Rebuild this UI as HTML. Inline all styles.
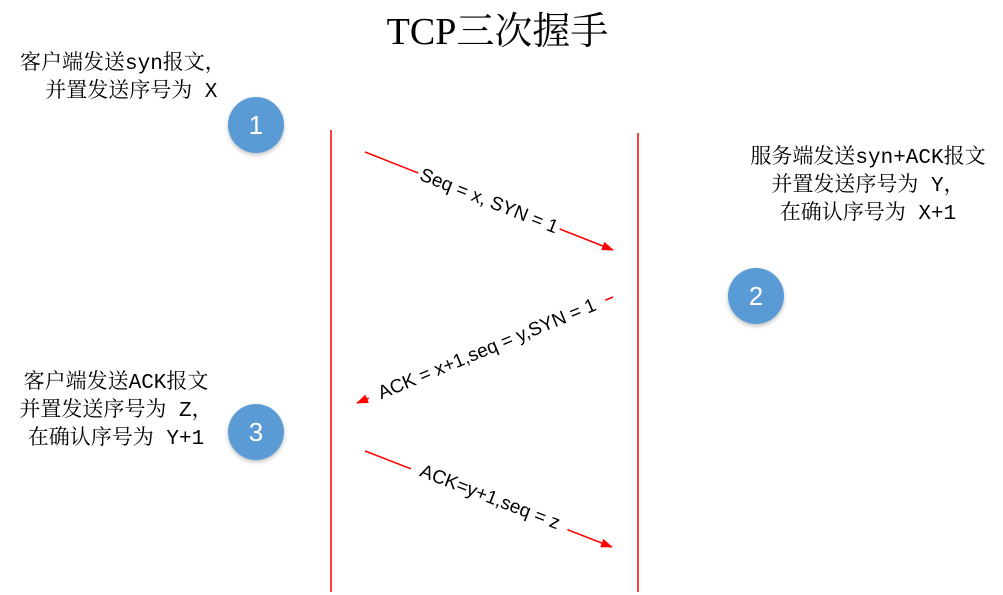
<!DOCTYPE html>
<html><head><meta charset="utf-8"><style>
body{margin:0;width:1003px;height:595px;background:#fff;overflow:hidden;position:relative}
.t{position:absolute;font-family:"Liberation Mono","Noto Serif CJK SC",serif;font-size:21px;color:#000;line-height:28px;white-space:pre;text-align:center}
.c{position:absolute;width:56px;height:56px;border-radius:50%;background:#5b9bd5;color:#fff;font:26px "Liberation Sans",sans-serif;line-height:56px;text-align:center;box-shadow:0 2px 4px rgba(0,0,0,.25)}
</style></head><body>
<div class="t" style="left:0;width:995px;top:8px;font-family:'Liberation Serif','Noto Serif CJK SC',serif;font-size:38px;line-height:48px">TCP三次握手</div>
<div class="t" style="left:20px;width:220px;top:51px;text-align:left">客户端发送syn报文，
  并置发送序号为 X</div>
<div class="t" style="left:740px;width:256px;top:145px">服务端发送syn+ACK报文
并置发送序号为 Y，
在确认序号为 X+1</div>
<div class="t" style="left:8px;width:216px;top:370px">客户端发送ACK报文
并置发送序号为 Z，
在确认序号为 Y+1</div>
<div class="c" style="left:228px;top:97px">1</div>
<div class="c" style="left:728px;top:268px">2</div>
<div class="c" style="left:228px;top:404px">3</div>
<svg width="1003" height="595" style="position:absolute;left:0;top:0">
<defs><marker id="a" markerWidth="12" markerHeight="9" refX="11" refY="4.5" orient="auto" markerUnits="userSpaceOnUse"><path d="M0,0L12,4.5L0,9z" fill="red"/></marker></defs>
<g stroke="red" stroke-width="1.5">
<line x1="331" y1="130" x2="331" y2="592"/>
<line x1="638" y1="133" x2="638" y2="592"/>
<line x1="365" y1="152" x2="613" y2="250" marker-end="url(#a)"/>
<line x1="613" y1="297" x2="357" y2="403" marker-end="url(#a)"/>
<line x1="365" y1="451" x2="612" y2="547" marker-end="url(#a)"/>
</g>
<g font-family="Liberation Sans,DejaVu Sans,sans-serif" font-size="19" text-anchor="middle">
<g transform="translate(489,201) rotate(21.6)"><rect x="-76" y="-14" width="152" height="26" fill="#fff"/><text y="6">Seq = x, SYN = 1</text></g>
<g transform="translate(487,349) rotate(-22.5)"><rect x="-128" y="-14" width="256" height="26" fill="#fff"/><text y="6">ACK = x+1,seq = y,SYN = 1</text></g>
<g transform="translate(490,497) rotate(21.2)"><rect x="-84" y="-14" width="168" height="26" fill="#fff"/><text y="6">ACK=y+1,seq = z</text></g>
</g>
</svg>
</body></html>
